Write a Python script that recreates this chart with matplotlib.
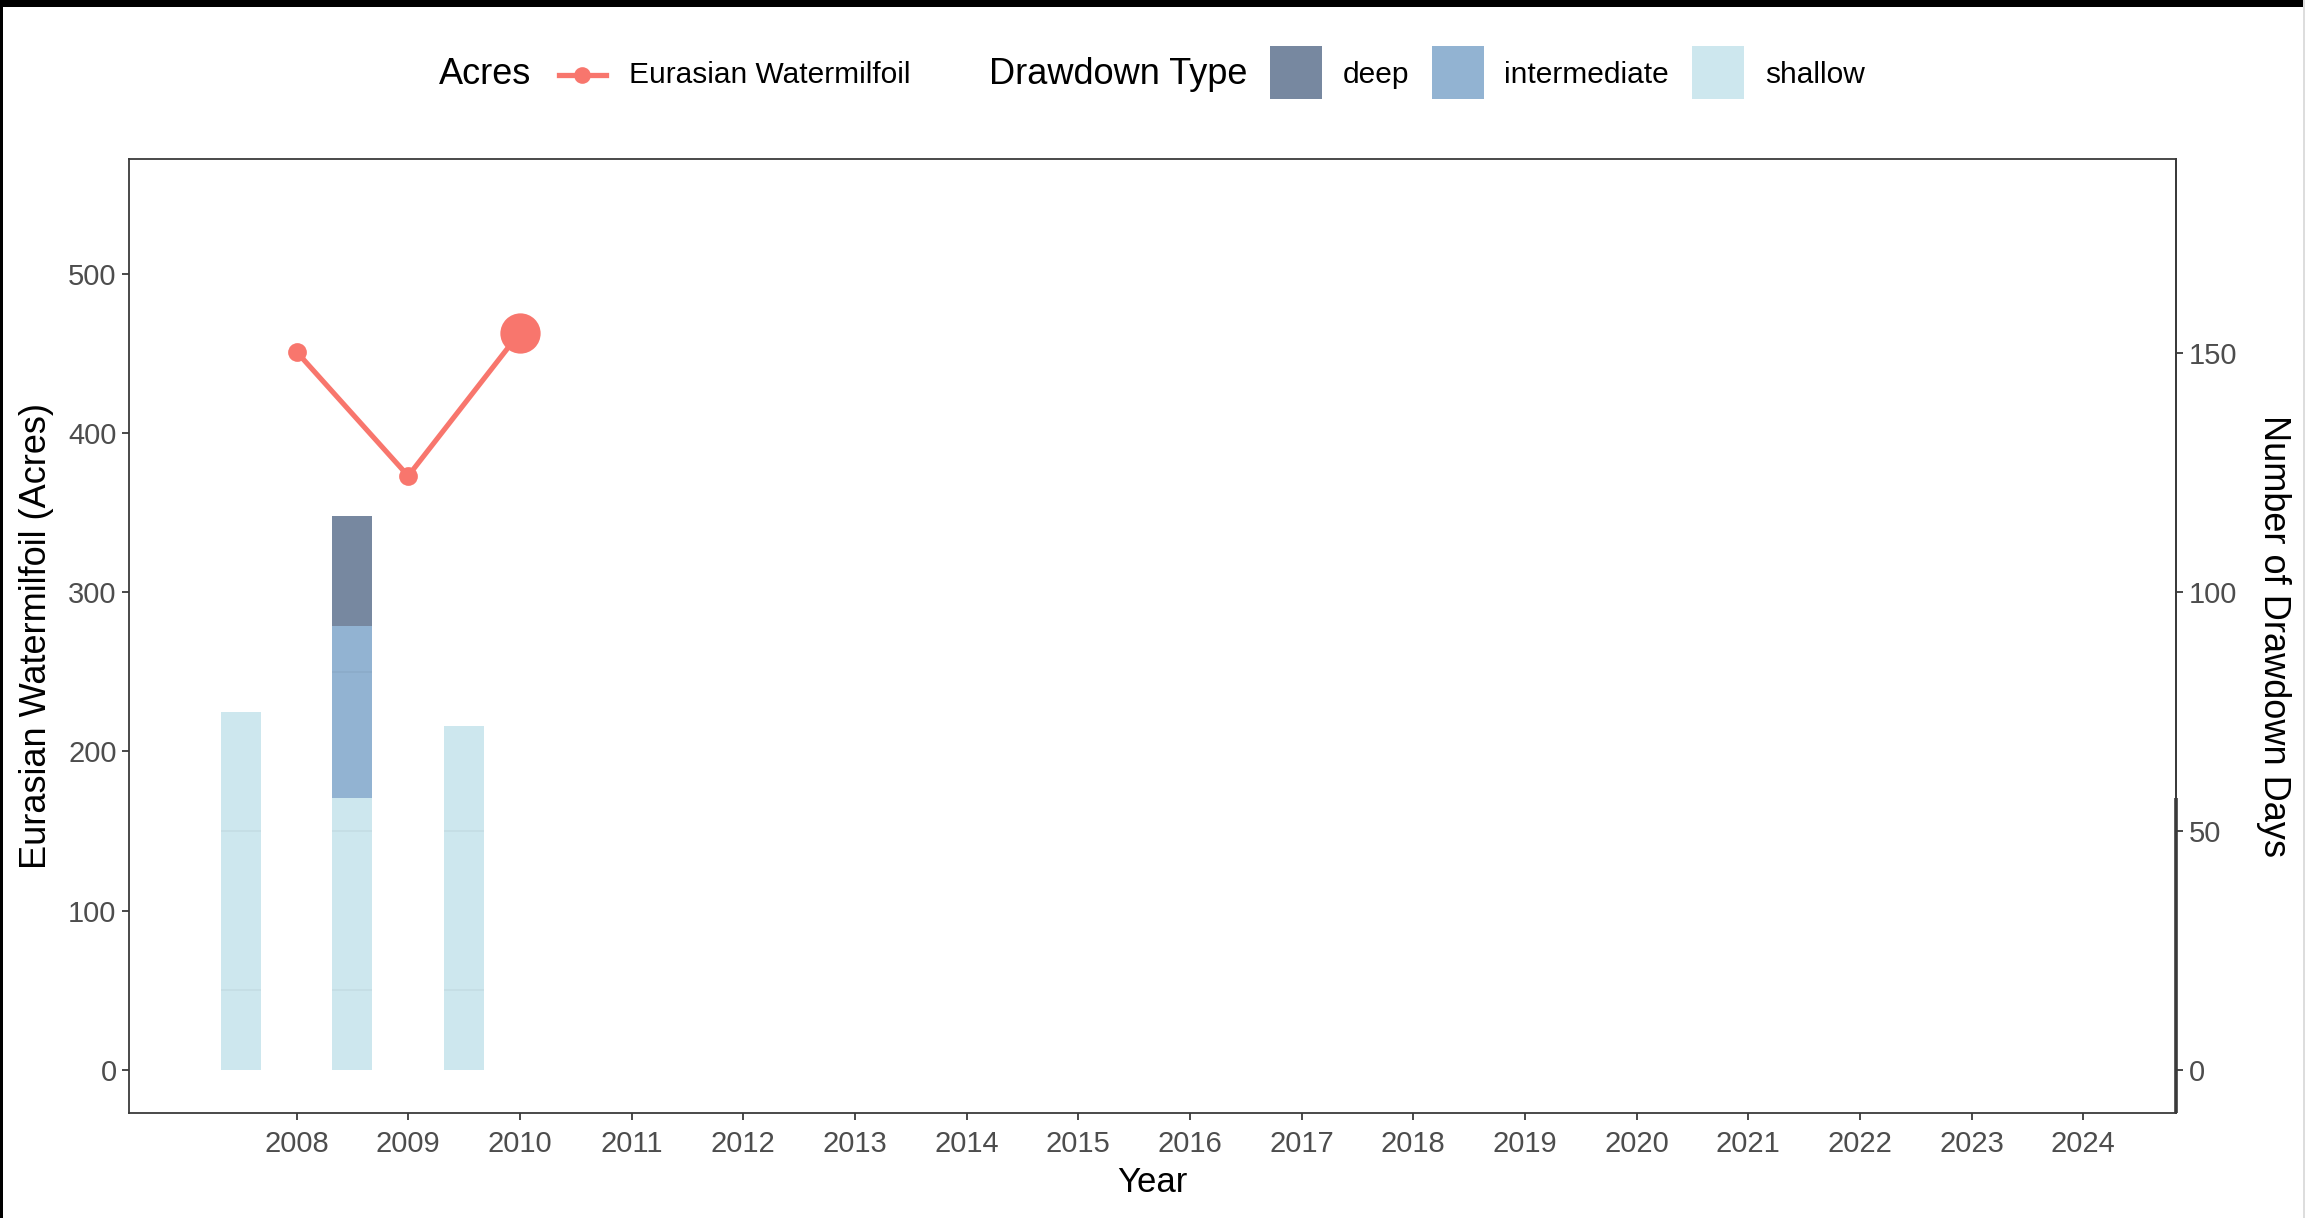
import matplotlib
matplotlib.use("Agg")
import matplotlib.pyplot as plt
from matplotlib.patches import Rectangle
from matplotlib.lines import Line2D

plt.rcParams['font.family'] = ['Liberation Sans', 'DejaVu Sans']

# Eurasian watermilfoil acreage
milfoil_years = [2008, 2009, 2010]
milfoil_acres = [451, 373, 463]
milfoil_sizes = [13.5, 13.5, 29]

# drawdown days per year, by type
drawdown_years = [2008, 2009, 2010]
shallow_days = [75, 57, 72]
intermediate_days = [0, 36, 0]
deep_days = [0, 23, 0]

year_ticks = list(range(2008, 2025))
acres_ticks = [0, 100, 200, 300, 400, 500]
days_ticks = [0, 50, 100, 150]
days_to_acres = 3.0

LINE_COL = "#F8766D"
DEEP_COL = "#7788A0"
INTER_COL = "#92B3D2"
SHALLOW_COL = "#CDE7EE"
TICK_COL = "#4D4D4D"
AX_COL = "#3A3A3A"

W, H = 2305, 1218
fig = plt.figure(figsize=(W / 100, H / 100), dpi=100)
fig.patch.set_facecolor("white")
ax = fig.add_axes([129 / W, 1 - 1113 / H, (2176 - 129) / W, (1113 - 159) / H])

# stacked drawdown bars (scaled onto the acres axis)
bar_w = 0.36
bar_x = [y - 0.5 for y in drawdown_years]
s_h = [d * days_to_acres for d in shallow_days]
i_h = [d * days_to_acres for d in intermediate_days]
d_h = [d * days_to_acres for d in deep_days]
ax.bar(bar_x, s_h, width=bar_w, color=SHALLOW_COL, zorder=2)
ax.bar(bar_x, i_h, bottom=s_h, width=bar_w, color=INTER_COL, zorder=2)
ax.bar(bar_x, d_h, bottom=[a + b for a, b in zip(s_h, i_h)], width=bar_w,
       color=DEEP_COL, zorder=2)

# faint minor grid showing through the bars
tops = [a + b + c for a, b, c in zip(s_h, i_h, d_h)]
for x, top in zip(bar_x, tops):
    for g in (50, 150, 250):
        if g < top:
            ax.hlines(g, x - bar_w / 2, x + bar_w / 2, color="black",
                      alpha=0.035, lw=1.5, zorder=3)

# milfoil line
ax.plot(milfoil_years, milfoil_acres, color=LINE_COL, lw=3.7, zorder=4,
        solid_capstyle="round")
for x, y, s in zip(milfoil_years, milfoil_acres, milfoil_sizes):
    ax.plot(x, y, "o", color=LINE_COL, ms=s, mew=0, zorder=5)

ax.set_xlim(2006.5, 2024.83)
ax.set_ylim(-27, 572)
ax.set_xticks(year_ticks)
ax.set_xticklabels([str(y) for y in year_ticks])
ax.set_yticks(acres_ticks)

for sp in ax.spines.values():
    sp.set_color(AX_COL)
    sp.set_linewidth(1.3)
ax.tick_params(axis="both", direction="out", length=5, width=1.3,
               color=AX_COL, labelcolor=TICK_COL, labelsize=21, pad=4)
ax.tick_params(axis="x", pad=7)

ax.set_xlabel("Year", fontsize=25, color="black", labelpad=6)
ax.set_ylabel("Eurasian Watermilfoil (Acres)", fontsize=26, color="black",
              labelpad=10)

# secondary axis in days
ax2 = ax.secondary_yaxis("right", functions=(lambda a: a / days_to_acres,
                                             lambda d: d * days_to_acres))
ax2.set_yticks(days_ticks)
ax2.spines["right"].set_color(AX_COL)
ax2.spines["right"].set_linewidth(1.3)
ax2.tick_params(axis="y", direction="out", length=5, width=1.3,
                color=AX_COL, labelcolor=TICK_COL, labelsize=21, pad=4)
ax2.set_ylabel("Number of Drawdown Days", fontsize=26, color="black",
               rotation=270, va="bottom", labelpad=14)

# thicker lower part of the right axis
ax.plot([1.0, 1.0], [-27, 171], color=AX_COL, lw=2.6,
        transform=ax.get_yaxis_transform(), clip_on=False, zorder=6,
        solid_capstyle="butt")

# legend, laid out by hand along the top
def fx(px):
    return px / W


def fy(py):
    return 1 - py / H


ly = fy(75)
fig.text(fx(439), ly, "Acres", fontsize=26, va="center", ha="left")
fig.add_artist(Line2D([fx(559), fx(606)], [ly, ly], color=LINE_COL, lw=3.8,
                      transform=fig.transFigure))
fig.add_artist(Line2D([fx(582)], [ly], marker="o", ms=12, mew=0,
                      color=LINE_COL, transform=fig.transFigure))
fig.text(fx(629), ly, "Eurasian Watermilfoil", fontsize=21.5, va="center",
         ha="left")
fig.text(fx(989), ly, "Drawdown Type", fontsize=26, va="center", ha="left")
keys = [(1270, DEEP_COL, "deep", 1343),
        (1432, INTER_COL, "intermediate", 1504),
        (1692, SHALLOW_COL, "shallow", 1765)]
for kx, col, lab, tx in keys:
    fig.add_artist(Rectangle((fx(kx), fy(99)), 52 / W, 53 / H,
                             facecolor=col, edgecolor="none",
                             transform=fig.transFigure))
    fig.text(fx(tx), ly, lab, fontsize=21.5, va="center", ha="left")

# black frame edges of the screenshot
fig.add_artist(Rectangle((0, fy(7)), 1, 7 / H, facecolor="black",
                         edgecolor="none", transform=fig.transFigure))
fig.add_artist(Rectangle((0, 0), 3 / W, 1, facecolor="black",
                         edgecolor="none", transform=fig.transFigure))
fig.add_artist(Rectangle((1 - 2 / W, 0), 2 / W, 1, facecolor="#DDDDDD",
                         edgecolor="none", transform=fig.transFigure))

fig.savefig("out.png", dpi=100)
